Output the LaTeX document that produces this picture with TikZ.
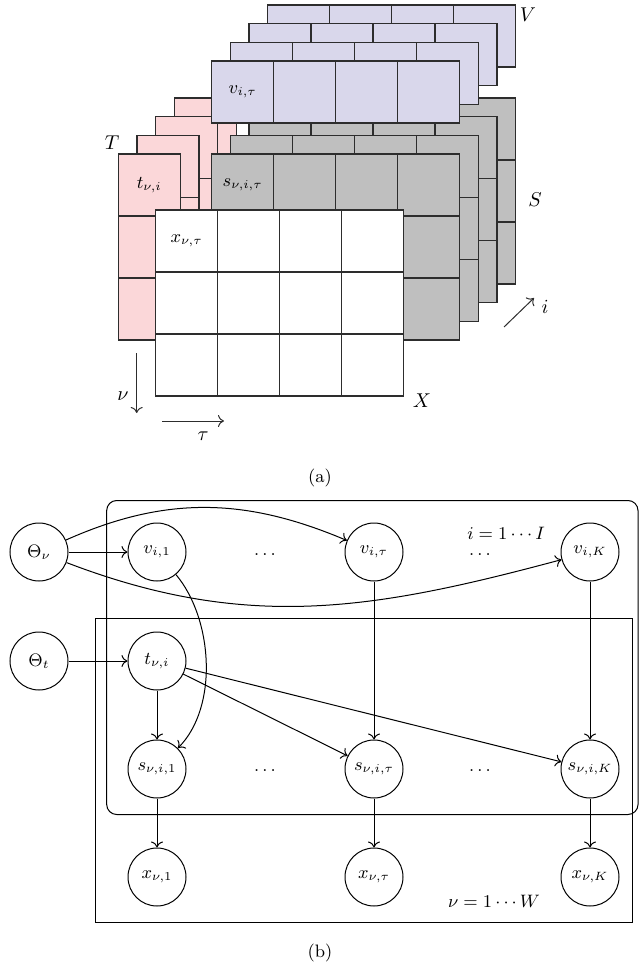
\documentclass[tikz,border=0pt]{standalone}
\usetikzlibrary{arrows.meta}
\definecolor{lila}{RGB}{217,215,235}
\definecolor{rosa}{RGB}{251,215,217}
\definecolor{gris}{RGB}{191,191,191}
\definecolor{borde}{RGB}{45,45,45}
\begin{document}
\begin{tikzpicture}[x=0.5pt,y=-0.5pt]

	%DEFINICIONES
	\tikzstyle{every node}=[font=\small]
	\tikzstyle{celda} = [draw=borde, line width=0.6pt]
	\tikzstyle{nodo} = [draw, circle, line width=0.5pt, minimum size=29pt, inner sep=0pt]
	\tikzstyle{blank} = [align=center, inner sep=0pt, outer sep=0pt]
	\tikzstyle{flecha} = [-{To[length=3pt,width=6pt]}, line width=0.5pt]
	\tikzstyle{eje} = [-{To[length=3pt,width=6pt]}, line width=0.5pt, draw=borde]

	\useasboundingbox (0,0) rectangle (640,968);

	%CAPAS T Y S (de atras hacia adelante)
	\foreach \k in {3,2,1,0}{
		\foreach \r in {0,1,2}
			\draw[celda, fill=rosa] (118.3+\k*18.67, 154-\k*18.67+\r*62) rectangle ++(62,62);
		\foreach \c in {0,...,3}
			\foreach \r in {0,1,2}
				\draw[celda, fill=gris] (211.7+\k*18.67+\c*62, 154-\k*18.67+\r*62) rectangle ++(62,62);
	}

	%CAPAS V
	\foreach \k in {3,2,1,0}{
		\foreach \c in {0,...,3}
			\draw[celda, fill=lila] (211.7+\k*18.67+\c*62, 61-\k*18.67) rectangle ++(62,62);
	}

	%MATRIZ X
	\foreach \c in {0,...,3}
		\foreach \r in {0,1,2}
			\draw[celda, fill=white] (155.7+\c*62, 210+\r*62) rectangle ++(62,62);

	%TEXTOS (a)
	\draw(242.7,92) node[blank]{$v_{i,\tau}$};
	\draw(149.3,185) node[blank]{$t_{\nu,i}$};
	\draw(242.7,185) node[blank]{$s_{\nu,i,\tau}$};
	\draw(186.7,241) node[blank]{$x_{\nu,\tau}$};
	\draw(528,15) node[blank, font=\normalsize]{$V$};
	\draw(112,143) node[blank, font=\normalsize]{$T$};
	\draw(535,200) node[blank, font=\normalsize]{$S$};
	\draw(422,401) node[blank, font=\normalsize]{$X$};
	\draw(123,396) node[blank, font=\normalsize]{$\nu$};
	\draw(203,436) node[blank, font=\normalsize]{$\tau$};
	\draw(545,307) node[blank, font=\normalsize]{$i$};
	\draw(320,478) node[blank]{(a)};

	%EJES
	\coordinate (nu0) at (136.7,353);
	\coordinate (nu1) at (136.7,413);
	\coordinate (tau0) at (162,421);
	\coordinate (tau1) at (224,421);
	\coordinate (i0) at (504,327);
	\coordinate (i1) at (534,298);
	\draw[eje] (nu0) -- (nu1);
	\draw[eje] (tau0) -- (tau1);
	\draw[eje] (i0) -- (i1);

	%PLACAS
	\draw[line width=0.5pt, rounded corners=5pt] (106.7,500.5) rectangle (638,814.5);
	\draw[line width=0.5pt] (95,618.3) rectangle (632,922.3);
	\draw(506,533) node[blank]{$i = 1 \cdots I$};
	\draw(494,901) node[blank]{$\nu = 1 \cdots W$};

	%NODOS
	\draw(39,552) node[nodo](Tv){$\Theta_\nu$};
	\draw(157,552) node[nodo](v1){$v_{i,1}$};
	\draw(374,552) node[nodo](vt){$v_{i,\tau}$};
	\draw(590,552) node[nodo](vK){$v_{i,K}$};
	\draw(39,661) node[nodo](Tt){$\Theta_t$};
	\draw(157,661) node[nodo](t){$t_{\nu,i}$};
	\draw(157,769) node[nodo](s1){$s_{\nu,i,1}$};
	\draw(374,769) node[nodo](st){$s_{\nu,i,\tau}$};
	\draw(590,769) node[nodo](sK){$s_{\nu,i,K}$};
	\draw(157,877) node[nodo](x1){$x_{\nu,1}$};
	\draw(374,877) node[nodo](xt){$x_{\nu,\tau}$};
	\draw(590,877) node[nodo](xK){$x_{\nu,K}$};

	\draw(265,555) node[blank]{$\ldots$};
	\draw(480,555) node[blank]{$\ldots$};
	\draw(265,771) node[blank]{$\ldots$};
	\draw(480,771) node[blank]{$\ldots$};

	%FLECHAS
	\draw[flecha] (Tv) -- (v1);
	\draw[flecha] (Tv) to[out=24,in=157] (vt);
	\draw[flecha] (Tv) to[out=-21,in=195] (vK);
	\draw[flecha] (Tt) -- (t);
	\draw[flecha] (v1) to[out=-50,in=45,looseness=0.85] (s1);
	\draw[flecha] (t) -- (s1);
	\draw[flecha] (t) -- (st);
	\draw[flecha] (t) -- (sK);
	\draw[flecha] (vt) -- (st);
	\draw[flecha] (vK) -- (sK);
	\draw[flecha] (s1) -- (x1);
	\draw[flecha] (st) -- (xt);
	\draw[flecha] (sK) -- (xK);

	\draw(320,953) node[blank]{(b)};
\end{tikzpicture}
\end{document}
